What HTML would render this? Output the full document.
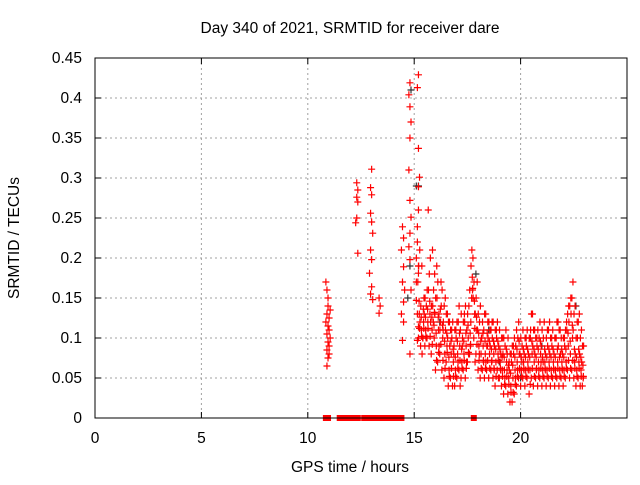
<!DOCTYPE html>
<html><head><meta charset="utf-8"><style>
body{margin:0;background:#fff}
svg text{font-family:"Liberation Sans",sans-serif;font-size:15.5px;fill:#000}
</style></head><body>
<svg id="chart" width="640" height="480" xmlns="http://www.w3.org/2000/svg">
<rect width="640" height="480" fill="#fff"/>
<text x="350" y="33" text-anchor="middle">Day 340 of 2021, SRMTID for receiver dare</text>
<text x="350" y="472" text-anchor="middle">GPS time / hours</text>
<text transform="translate(19,238) rotate(-90)" text-anchor="middle">SRMTID / TECUs</text>
<g id="grid"></g><g id="ticks"></g><g id="marks"></g>
<rect x="95" y="58" width="532" height="360" fill="none" stroke="#000" stroke-width="1"/>
</svg>
<script>
const xTicks=[0,5,10,15,20];
const yTicks=[0,0.05,0.1,0.15,0.2,0.25,0.3,0.35,0.4,0.45];
const yTickLabels=["0","0.05","0.1","0.15","0.2","0.25","0.3","0.35","0.4","0.45"];
const hours=[
10.85,10.9,10.95,10.9,11.0,10.85,10.95,11.0,10.9,11.05,10.95,11.0,10.9,11.0,10.95,10.9,11.05,10.95,
12.3,12.35,12.3,12.35,12.25,12.3,12.35,
13.0,12.95,13.0,12.95,13.0,13.05,12.95,13.0,12.9,13.0,13.05,12.95,13.35,13.4,13.35,
14.45,14.5,14.4,14.5,14.45,14.55,14.5,14.4,14.5,14.45,
14.8,14.75,14.8,14.85,14.8,14.75,14.8,14.85,14.8,14.75,14.8,14.85,14.8,
15.2,15.15,15.2,15.25,15.2,15.15,15.2,15.1,15.2,15.15,15.2,15.1,15.15,15.2,15.1,15.15
];
const values=[
.17,.16,.14,.13,.125,.12,.115,.11,.105,.10,.095,.09,.085,.08,.075,.065,.135,.15,
.294,.285,.276,.27,.244,.25,.206,
.311,.288,.279,.256,.245,.231,.21,.198,.181,.164,.148,.155,.15,.14,.131,
.239,.225,.21,.189,.17,.16,.145,.13,.12,.097,
.419,.404,.389,.37,.35,.31,.272,.251,.231,.214,.198,.16,.08,
.429,.413,.337,.301,.289,.239,.181,.147,.114,.097,.26,.2,.22,.19,.17,.13
];
const bandHours=[15.2,15.3,15.4,15.5,15.6,15.7,15.8,15.9,16.0,16.1,16.2,16.3,16.4,16.5,16.6,16.7,16.8,16.9,17.0,17.1,17.2,17.3,17.4,17.5,17.6,17.7,17.8,17.9,18.0,18.1,18.2,18.3,18.4,18.5,18.6,18.7,18.8,18.9,19.0,19.1,19.2,19.3,19.4,19.5,19.6,19.7,19.8,19.9,20.0,20.1,20.2,20.3,20.4,20.5,20.6,20.7,20.8,20.9,21.0,21.1,21.2,21.3,21.4,21.5,21.6,21.7,21.8,21.9,22.0,22.1,22.2,22.3,22.4,22.5,22.6,22.7,22.8,22.9];
const bandA=[.10,.09,.10,.09,.10,.09,.08,.12,.06,.07,.08,.06,.05,.07,.04,.05,.04,.04,.05,.06,.05,.06,.05,.07,.08,.15,.10,.08,.06,.05,.06,.05,.06,.05,.06,.05,.04,.06,.05,.04,.03,.04,.03,.02,.02,.03,.04,.05,.04,.05,.04,.05,.03,.05,.04,.05,.04,.05,.04,.05,.04,.05,.04,.05,.04,.05,.04,.05,.04,.05,.06,.05,.06,.05,.04,.05,.04,.04];
const bandB=[.13,.11,.12,.11,.12,.13,.11,.10,.09,.11,.12,.10,.08,.09,.06,.08,.07,.06,.08,.09,.07,.08,.09,.10,.09,.16,.13,.11,.09,.08,.09,.08,.09,.08,.07,.08,.07,.08,.07,.06,.06,.07,.05,.04,.05,.06,.07,.08,.06,.07,.06,.07,.06,.08,.07,.06,.07,.08,.06,.07,.06,.07,.06,.07,.06,.07,.06,.07,.06,.07,.09,.08,.10,.07,.06,.07,.06,.05];
const bandC=[.17,.12,.08,.13,.14,.16,.12,.14,.13,.15,.09,.14,.12,.11,.10,.09,.10,.09,.10,.12,.11,.10,.12,.11,.14,.19,.15,.13,.11,.12,.10,.11,.07,.10,.09,.10,.09,.10,.09,.08,.08,.09,.08,.06,.07,.08,.09,.10,.08,.09,.08,.09,.08,.11,.09,.08,.09,.10,.09,.10,.08,.09,.08,.09,.08,.10,.09,.08,.08,.09,.11,.12,.13,.11,.08,.10,.08,.07];
const bandD=[.21,.19,.15,.10,.26,.20,.21,.18,.19,.13,.17,.11,.15,.13,.12,.11,.08,.11,.07,.04,.09,.13,.07,.08,.12,.20,.07,.17,.08,.10,.07,.13,.12,.11,.12,.06,.11,.05,.06,.10,.05,.06,.07,.08,.09,.05,.06,.06,.07,.06,.10,.06,.10,.13,.11,.10,.06,.07,.07,.06,.11,.12,.10,.06,.10,.12,.11,.06,.10,.12,.14,.15,.17,.14,.12,.13,.11,.09];
const zeroHours=[10.85,10.95,11.5,11.6,11.7,11.8,11.9,12.0,12.15,12.25,12.35,12.65,12.75,13.0,13.1,13.35,13.45,13.6,13.7,13.8,13.9,14.0,14.1,14.2,14.3,14.4,17.8];
const blackHours=[14.7,14.8,15.1,15.2,17.9,19.0,20.0,21.0,22.6,14.85,16.2,18.5];
const blackValues=[.15,.19,.29,.29,.18,.07,.05,.09,.14,.41,.12,.11];

const NS="http://www.w3.org/2000/svg";
const X=h=>95+h*21.28, Y=v=>418-v*800;
const grid=document.getElementById('grid'),ticks=document.getElementById('ticks'),marks=document.getElementById('marks');
function mk(t,a,p){const e=document.createElementNS(NS,t);for(const k in a)e.setAttribute(k,a[k]);p.appendChild(e);return e;}
xTicks.forEach(t=>{
 const x=X(t);
 if(t>0){const g=mk('line',{x1:x,y1:58,x2:x,y2:418,stroke:'#a0a0a0','stroke-dasharray':'2,3'},grid);
 
 }
 mk('line',{x1:x,y1:418,x2:x,y2:412,stroke:'#000'},ticks);
 mk('line',{x1:x,y1:58,x2:x,y2:64,stroke:'#000'},ticks);
 const l=mk('text',{x:x,y:443,'text-anchor':'middle'},ticks);l.textContent=t;
 
 
});
yTicks.forEach((t,i)=>{
 const y=Y(t);
 if(t>0&&t<0.45){const g=mk('line',{x1:95,y1:y,x2:627,y2:y,stroke:'#a0a0a0','stroke-dasharray':'2,3'},grid);
 
 }
 mk('line',{x1:95,y1:y,x2:101,y2:y,stroke:'#000'},ticks);
 mk('line',{x1:627,y1:y,x2:621,y2:y,stroke:'#000'},ticks);
 const l=mk('text',{x:82,y:y+5,'text-anchor':'end'},ticks);l.textContent=yTickLabels[i];
 
 
});
function plus(h,v,c){
 const x=X(h),y=Y(v);
 const p=mk('path',{d:`M${x-3.5},${y}h7M${x},${y-3.5}v7`,stroke:c,'stroke-width':1.2,fill:'none'},marks);
 
 
}
blackHours.forEach((h,i)=>plus(h,blackValues[i],'#333'));
hours.forEach((h,i)=>plus(h,values[i],'#f00'));
const shifts=[0,0.04,-0.03,0.06];
[bandA,bandB,bandC,bandD].forEach((s,k)=>bandHours.forEach((h,i)=>plus(h+shifts[k],s[i],'#f00')));
[bandA,bandB,bandC].forEach((s,k)=>bandHours.forEach((h,i)=>plus(h+0.05-0.02*k,s[i]+0.012+0.004*k,'#f00')));
zeroHours.forEach(h=>{
 const r=mk('rect',{x:X(h)-3,y:415,width:6,height:6,fill:'#f00'},marks);
 
 
});
</script>
</body></html>
